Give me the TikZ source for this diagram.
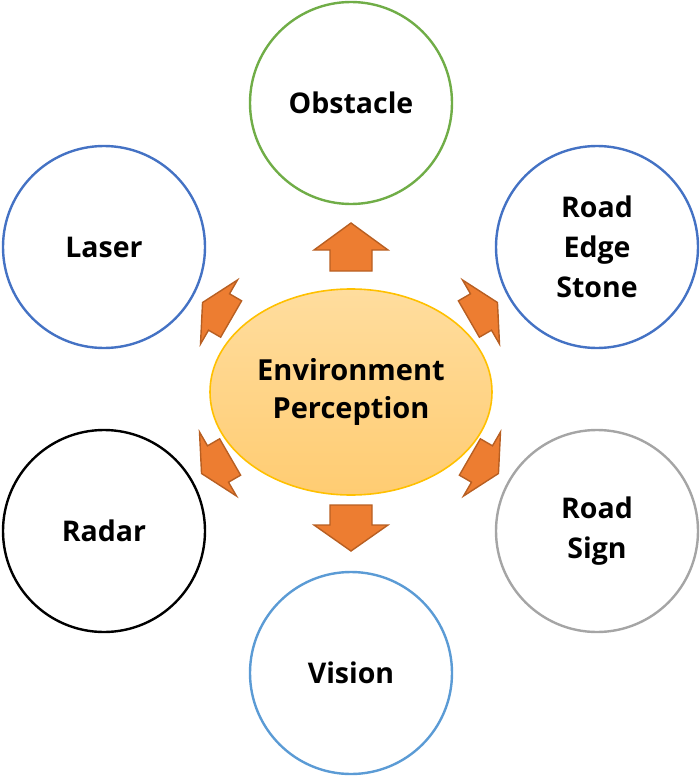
\documentclass[tikz,border=0pt]{standalone}
\usepackage{fontspec}
\setmainfont{Open Sans}
\usetikzlibrary{shapes.geometric}
\definecolor{cgreen}{HTML}{70AD47}
\definecolor{cblue}{HTML}{4472C4}
\definecolor{clblue}{HTML}{5B9BD5}
\definecolor{cgray}{HTML}{A5A5A5}
\definecolor{corange}{HTML}{ED7D31}
\definecolor{cdorange}{HTML}{B85F22}
\definecolor{cgold}{HTML}{FFC000}
\definecolor{ctop}{HTML}{FFDD9E}
\definecolor{cbot}{HTML}{FFCC72}
\tikzset{
  topic/.style={circle, draw, line width=2.4pt, fill=white, minimum size=202pt, inner sep=0pt,
    align=center, font=\fontsize{28.5}{40}\selectfont\bfseries},
  hub/.style={ellipse, draw=cgold, line width=1.6pt, top color=ctop, bottom color=cbot,
    minimum width=282pt, minimum height=206pt, inner sep=0pt, align=center,
    font=\fontsize{29}{38}\selectfont\bfseries},
  blockarrow/.style={fill=corange, draw=cdorange, line width=1.4pt, line join=miter}
}
\newcommand{\blockarr}[5]{% origin, angle, head length, shaft length
  \draw[blockarrow, shift={#1}, rotate=#2]
    (#3,0) -- (0,37) -- (0,21) -- (-#4,21) -- (-#4,-21) -- (0,-21) -- (0,-37) -- cycle;}
\begin{document}
\begin{tikzpicture}[x=1pt,y=-1pt]
\useasboundingbox (0,0) rectangle (700,776);
\node[topic, draw=cgreen] (obstacle) at (351,103) {Obstacle};
\node[topic, draw=cblue] (laser) at (104,247) {Laser};
\node[topic, draw=cblue] (edge) at (597,247) {Road\\Edge\\Stone};
\node[topic, draw=black] (radar) at (104,531) {Radar};
\node[topic, draw=cgray] (sign) at (597,531) {Road\\Sign};
\node[topic, draw=clblue] (vision) at (351,673) {Vision};
\node[hub] (env) at (351,392) {Environment\\Perception};
\blockarr{(351,250)}{90}{27}{21}{}
\blockarr{(351,525)}{-90}{26}{20}{}
\blockarr{(481,312)}{30}{19}{14}{}
\blockarr{(219,312)}{150}{19}{14}{}
\blockarr{(482,464)}{-30}{19}{14}{}
\blockarr{(218,464)}{210}{19}{14}{}
\end{tikzpicture}
\end{document}
